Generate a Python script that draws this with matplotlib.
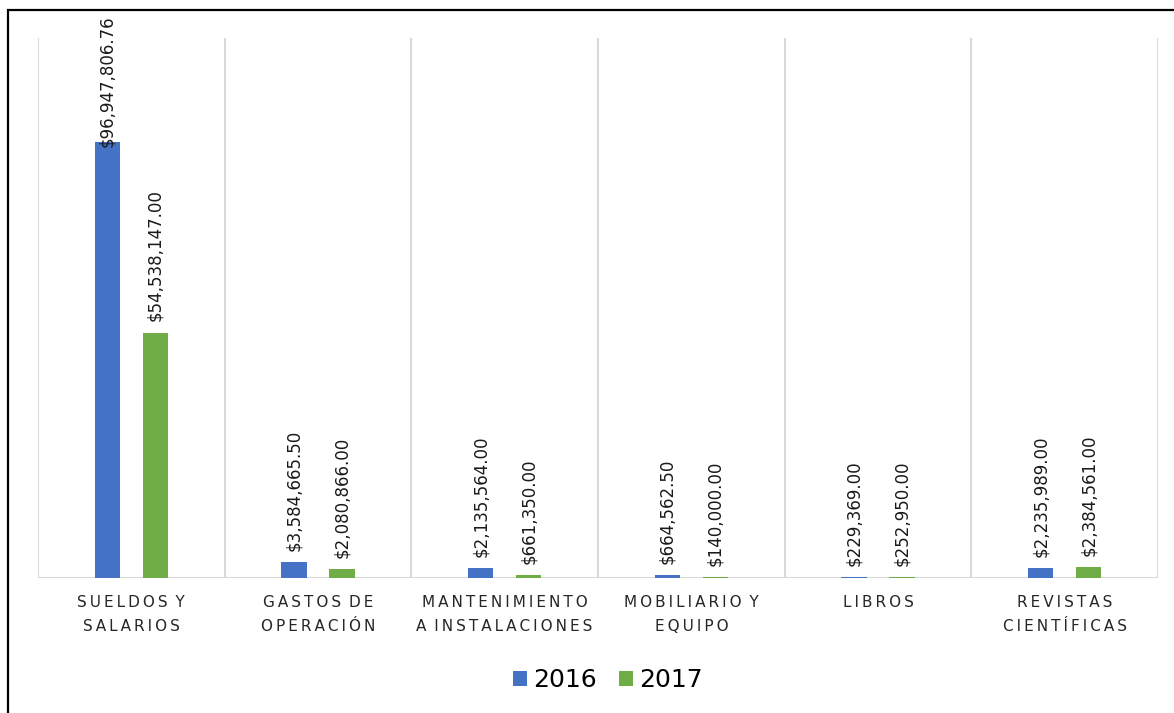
# Gasto por rubro 2016 vs 2017

import matplotlib.pyplot as plt
import numpy as np
from matplotlib.patches import Rectangle

categorias = [
   ("SUELDOS Y", "SALARIOS"),
   ("GASTOS DE", "OPERACIÓN"),
   ("MANTENIMIENTO", "A INSTALACIONES"),
   ("MOBILIARIO Y", "EQUIPO"),
   ("LIBROS", ""),
   ("REVISTAS", "CIENTÍFICAS"),
]
valores_2016 = [96947806.76, 3584665.50, 2135564.00, 664562.50, 229369.00, 2235989.00]
valores_2017 = [54538147.00, 2080866.00, 661350.00, 140000.00, 252950.00, 2384561.00]
anios = ["2016", "2017"]

AZUL = "#4472C4"
VERDE = "#70AD47"
GRIS = "#D9D9D9"


def espaciar(texto):  # imita el espaciado de caracteres de Excel
   palabras = texto.split(" ")
   return "\u2009 ".join("\u2009".join(p) for p in palabras)


fig = plt.figure(figsize=(11.74, 7.13), dpi=100)
ax = fig.add_axes([38 / 1174, 1 - 578 / 713, 1120 / 1174, 540 / 713])

x = np.arange(len(categorias))
ancho = 0.134
desp = 0.1286
b1 = ax.bar(x - desp, valores_2016, ancho, color=AZUL, label=anios[0], zorder=3)
b2 = ax.bar(x + desp, valores_2017, ancho, color=VERDE, label=anios[1], zorder=3)

etiquetas = []
for barras, vals in ((b1, valores_2016), (b2, valores_2017)):
   for b, v in zip(barras, vals):
      t = ax.annotate(f"${v:,.2f}", (b.get_x() + b.get_width() / 2, v),
                      xytext=(0, 8), textcoords="offset points",
                      rotation=90, ha="center", va="bottom",
                      fontsize=12, color="#1a1a1a", zorder=4)
      etiquetas.append(t)

ax.set_xlim(-0.5, len(categorias) - 0.5)
ax.set_ylim(0, 120e6)

# separadores entre categorías
for s in np.arange(-0.5, len(categorias), 1.0):
   ax.axvline(s, color=GRIS, lw=1.5, zorder=1)
ax.axhline(0, color=GRIS, lw=1.5, zorder=2)

for sp in ax.spines.values():
   sp.set_visible(False)
ax.set_yticks([])
ax.set_xticks([])
ax.patch.set_alpha(0)

for i, (l1, l2) in enumerate(categorias):
   ax.text(i, -0.045, espaciar(l1), transform=ax.get_xaxis_transform(),
           ha="center", va="center", fontsize=11, color="#262626")
   if l2:
      ax.text(i, -0.09, espaciar(l2), transform=ax.get_xaxis_transform(),
              ha="center", va="center", fontsize=11, color="#262626")

fig.legend(handles=[b1, b2], labels=anios, loc="center", bbox_to_anchor=(0.518, 1 - 680 / 713),
           ncol=2, frameon=False, fontsize=18, handlelength=0.55, handleheight=0.55,
           handletextpad=0.25, columnspacing=0.9)

# marco exterior
fig.patches.append(Rectangle((8 / 1174, -0.1), 1.1, 1.1 - 10 / 713, transform=fig.transFigure,
                             fill=False, edgecolor="black", lw=1.6))

# si una etiqueta se sale por arriba, se baja como hace Excel
fig.canvas.draw()
r = fig.canvas.get_renderer()
limite = fig.bbox.height - 15
for t in etiquetas:
   bb = t.get_window_extent(r)
   if bb.y1 > limite:
      dy = (bb.y1 - limite) * 72 / fig.dpi
      ox, oy = t.xyann
      t.xyann = (ox, oy - dy)

plt.savefig("out.png", dpi=100)
